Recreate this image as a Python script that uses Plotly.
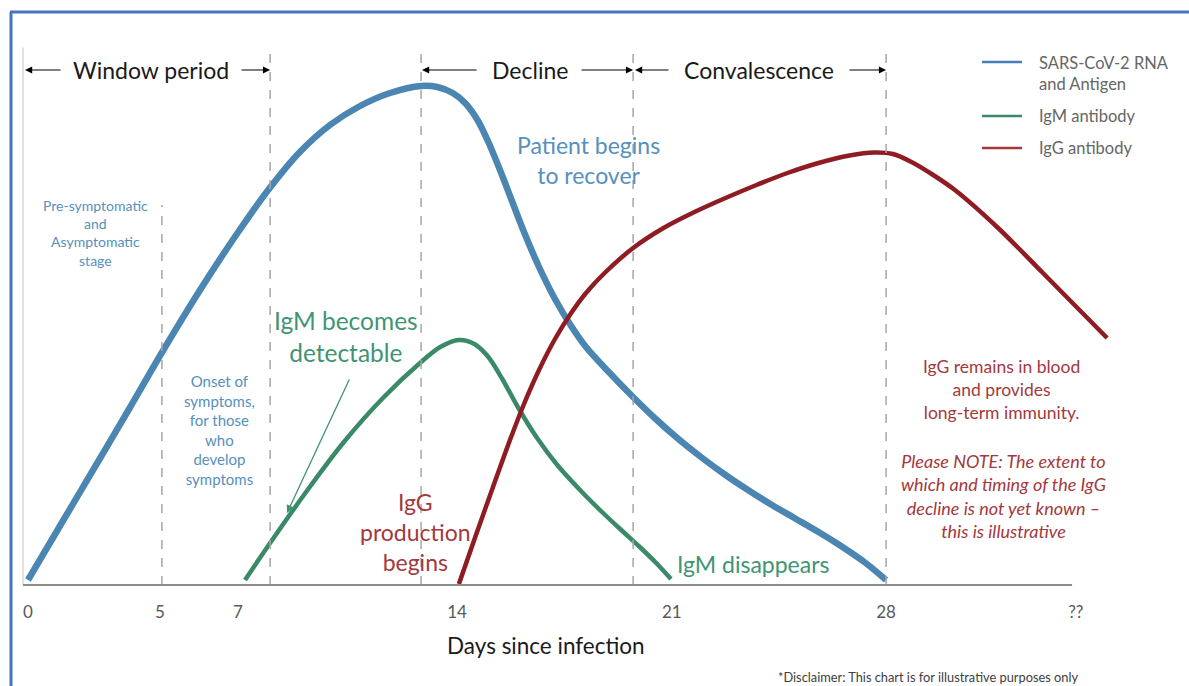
import plotly.graph_objects as go

# ---------------- data (x in chart "day" units, y = relative level) ----------------
blue_day = [0, 1.03, 2.32, 3.29, 4.32, 5.55, 6.77, 7.81, 8.77, 9.74, 10.71, 11.68, 12.68,
            13.2, 13.7, 14.1, 14.5, 14.85, 15.2, 15.6, 16.0, 16.5, 17.0, 17.5, 18.0, 18.75,
            19.5, 20.25, 21.0, 21.75, 22.5, 23.25, 24.0, 24.75, 25.5, 26.25, 27.0, 27.68]
blue_level = [1, 11.8, 25.3, 35.5, 46.5, 59, 70.5, 79.5, 86.6, 92, 95.8, 98.4, 99.8,
              99.6, 98.4, 96.4, 93, 88.6, 83.4, 77, 70.6, 63.4, 57.2, 52, 47.6, 42.5,
              37.7, 33.2, 29.1, 25.4, 22, 18.9, 16, 13.3, 10.6, 7.7, 4.5, 1.0]

green_day = [7.0, 7.81, 8.97, 10.19, 11.45, 12.68, 13.3, 13.9, 14.4, 14.85, 15.3, 15.8,
             16.4, 17.1, 17.9, 18.5, 19.1, 19.7, 20.25, 20.74]
green_level = [1, 8.4, 18.6, 28.6, 37.4, 44.6, 47.6, 49, 48.2, 45.6, 41.2, 35.6,
               29.6, 23.8, 18.4, 14.7, 11.2, 7.8, 4.5, 1.2]

red_day = [13.9, 14.45, 15.0, 15.5, 16.0, 16.5, 17.0, 17.5, 18.0, 18.6, 19.52, 20.5, 21.5,
           22.5, 23.5, 24.5, 25.5, 26.5, 27.3, 27.9, 28.5, 29.2, 29.9, 31.26, 32.74, 34.81]
red_level = [0.2, 10, 19.6, 28.2, 36.2, 43.2, 49.2, 54.2, 58.4, 62.4, 67.4, 71.4, 74.6,
             77.4, 80, 82.4, 84.4, 85.9, 86.5, 86.2, 84.6, 82, 79, 71.6, 62.4, 49.4]

series_names = ["SARS-CoV-2 RNA<br>and Antigen", "IgM antibody", "IgG antibody"]

tick_pos = [0, 4.26, 6.77, 13.84, 20.77, 27.68, 33.8]
tick_text = ["0", "5", "7", "14", "21", "28", "??"]

onset_day = 4.32
phase_bounds = [7.81, 12.68, 19.52, 27.68]
axis_start, axis_end = -0.16, 33.68

# ---------------- styling ----------------
W, H = 1189, 686
FONT = "Lato"
BLUE, GREEN, RED = "#4b85b2", "#3a8a68", "#8e1c22"
BLUE_T, GREEN_T, RED_T = "#5690bd", "#3f9473", "#a3383d"
XR = [-28 / 31, (W - 28) / 31]
YR = [(585 - H) / 5, 585 / 5]


def px(x):
    return x / W


def py(y):
    return 1 - y / H


fig = go.Figure()
for xs, ys, col, wdt, name in [(blue_day, blue_level, BLUE, 6.5, series_names[0]),
                               (green_day, green_level, GREEN, 4.5, series_names[1]),
                               (red_day, red_level, RED, 4.5, series_names[2])]:
    fig.add_trace(go.Scatter(x=xs, y=ys, mode="lines", cliponaxis=False, showlegend=False, name=name,
                             line=dict(color=col, width=wdt, shape="spline", smoothing=0.9)))

shapes = []
# frame (blue border top & left)
shapes.append(dict(type="line", xref="paper", yref="paper", x0=px(11), x1=px(11), y0=0, y1=py(12),
                   line=dict(color="#4472c4", width=3)))
shapes.append(dict(type="line", xref="paper", yref="paper", x0=px(10), x1=1, y0=py(12), y1=py(12),
                   line=dict(color="#4472c4", width=3)))
# y-axis light line
shapes.append(dict(type="line", xref="x", yref="y", x0=axis_start, x1=axis_start, y0=0, y1=107.5,
                   line=dict(color="#d9d9d9", width=1.5)))
# dashed vertical lines
shapes.append(dict(type="line", xref="x", yref="y", x0=onset_day, x1=onset_day, y0=0, y1=76,
                   line=dict(color="#a6a6a6", width=1.5, dash="dash")))
for b in phase_bounds:
    shapes.append(dict(type="line", xref="x", yref="y", x0=b, x1=b, y0=0, y1=107.5,
                       line=dict(color="#a6a6a6", width=1.5, dash="dash")))
# x axis baseline
shapes.append(dict(type="line", xref="x", yref="y", x0=axis_start, x1=axis_end, y0=0, y1=0,
                   line=dict(color="#8c8c8c", width=2)))
# legend sample lines
for yy, col in [(62, "#4a7ebb"), (116, GREEN), (148, RED_T)]:
    shapes.append(dict(type="line", xref="paper", yref="paper", x0=px(982), x1=px(1022), y0=py(yy), y1=py(yy),
                       line=dict(color=col, width=2.5)))

ann = []


def text(x, y, s, size, color, italic=False, align="center", xanchor="center"):
    ann.append(dict(x=px(x), y=py(y), xref="paper", yref="paper", text=s, showarrow=False,
                    xanchor=xanchor, yanchor="middle", align=align,
                    font=dict(family=FONT, size=size, color=color,
                              style="italic" if italic else "normal")))


def arrow(head, tail, yv, color="#000000", w=1.2):
    ann.append(dict(x=head, y=yv, ax=tail, ay=yv, xref="x", yref="y", axref="x", ayref="y",
                    text="", showarrow=True, arrowhead=2, arrowsize=1.2, arrowwidth=w, arrowcolor=color))


# phase headers
hy = (585 - 70) / 5
text(151, 70, "Window period", 23, "#1a1a1a")
arrow(-0.097, 1.10, hy)
arrow(7.81, 6.84, hy)
text(530, 70, "Decline", 23, "#1a1a1a")
arrow(12.71, 14.52, hy)
arrow(19.52, 17.81, hy)
text(759, 70, "Convalescence", 23, "#1a1a1a")
arrow(19.58, 20.71, hy)
arrow(27.68, 26.45, hy)

# legend texts
text(1037, 73, "SARS-CoV-2 RNA<br>and Antigen", 16.5, "#666666", align="left", xanchor="left")
text(1037, 116, "IgM antibody", 16.5, "#666666", align="left", xanchor="left")
text(1037, 148, "IgG antibody", 16.5, "#666666", align="left", xanchor="left")

# annotations
text(95, 233, "Pre-symptomatic<br>and<br>Asymptomatic<br>stage", 14, BLUE_T)
text(219, 430, "Onset of<br>symptoms,<br>for those<br>who<br>develop<br>symptoms", 15, BLUE_T)
text(346, 336, "IgM becomes<br>detectable", 24.5, GREEN_T)
ann.append(dict(x=(287 - 28) / 31, y=(585 - 513) / 5, ax=(350 - 28) / 31, ay=(585 - 378) / 5,
                xref="x", yref="y", axref="x", ayref="y", text="", showarrow=True,
                arrowhead=2, arrowsize=1.2, arrowwidth=1.3, arrowcolor=GREEN_T))
text(588, 160, "Patient begins<br>to recover", 23, BLUE_T)
text(415, 532, "IgG<br>production<br>begins", 23, RED_T)
text(753, 564, "IgM disappears", 23, GREEN_T)
text(1001, 389, "IgG remains in blood<br>and provides<br>long-term immunity.", 17.5, RED_T)
text(1003, 496, "Please NOTE: The extent to<br>which and timing of the IgG<br>decline is not yet known –<br>this is illustrative",
     18, RED_T, italic=True)
text(546, 645, "Days since infection", 22.5, "#1a1a1a")
text(928, 677, "*Disclaimer: This chart is for illustrative purposes only", 12.8, "#404040")

fig.update_layout(
    width=W, height=H, margin=dict(l=0, r=0, t=0, b=0),
    paper_bgcolor="white", plot_bgcolor="white",
    showlegend=False, shapes=shapes, annotations=ann,
    xaxis=dict(range=XR, domain=[0, 1], anchor="free", position=(H - 585) / H,
               showgrid=False, zeroline=False, showline=False,
               tickmode="array", tickvals=tick_pos, ticktext=tick_text,
               ticks="outside", ticklen=12, tickcolor="rgba(0,0,0,0)",
               tickfont=dict(family=FONT, size=17, color="#595959")),
    yaxis=dict(range=YR, domain=[0, 1], visible=False),
)

fig.write_html("out.html", config={"displayModeBar": False},
               post_script="document.body.style.margin='0';document.body.style.overflow='hidden';")
